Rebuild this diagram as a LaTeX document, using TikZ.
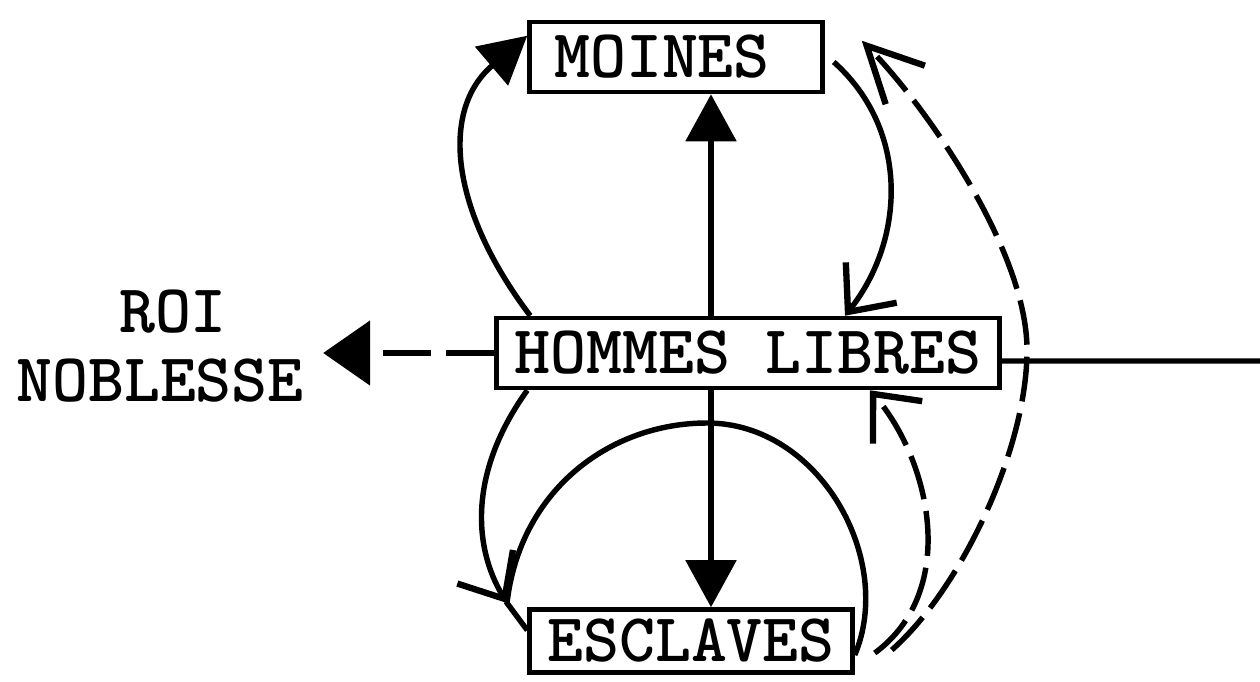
\documentclass[tikz,border=0pt]{standalone}
\usetikzlibrary{arrows.meta}
\tikzset{
	classbox/.style={draw, line width=2.6pt, inner sep=0pt, font=\ttfamily\bfseries\fontsize{39}{39.3}\selectfont},
	solidtip/.style={-{Triangle[length=0.94cm,width=1cm]}},
	barbtip/.style={-{Straight Barb[length=0.75cm,width=1.3cm,line width=3.6pt]}},
	dashedline/.style={dash pattern=on 0.9cm off 0.24cm},
}
\begin{document}
\begin{tikzpicture}[x=0.02cm, y=-0.02cm, line width=3.1pt]
	\useasboundingbox (0,0) rectangle (1260,682);
	\node [classbox, minimum width=5.86cm, minimum height=1.4cm] (moines) at (676,57) {MOINES\hspace*{0.56cm}};
	\node [classbox, minimum width=10.06cm, minimum height=1.4cm] (libres) at (748,353) {HOMMES LIBRES};
	\node [classbox, minimum width=6.46cm, minimum height=1.26cm] (esclaves) at (691,641) {ESCLAVES};
	\node [classbox, draw=none, align=center, inner sep=0.34cm] (roi) at (160,346) {\hspace*{0.52cm}ROI\\NOBLESSE};
	\coordinate (axis) at (711,0);
	\coordinate (edge) at (1262,361);
	\coordinate (merge) at (507,603);
	% up to the monks
	\draw [solidtip] ([xshift=0.72cm]libres.north west) .. controls (450,210) and (440,110) .. ([yshift=-0.32cm]moines.north west);
	\draw [solidtip] (libres.north -| axis) -- (moines.south -| axis);
	\draw [barbtip] ([xshift=0.18cm,yshift=-0.1cm]moines.east) .. controls (910,130) and (905,240) .. ([xshift=1.94cm]libres.north);
	% down to the slaves
	\draw [solidtip] (libres.south -| axis) -- (esclaves.north -| axis);
	\draw [barbtip] ([xshift=0.66cm]libres.south west) .. controls (470,470) and (472,545) .. (merge);
	\draw ([yshift=-0.28cm]esclaves.east) .. controls (895,560) and (820,423) .. (707,423) .. controls (610,423) and (520,490) .. (merge) -- ([yshift=-0.46cm]esclaves.north west);
	% dashed returns
	\draw [barbtip, dashedline] ([xshift=0.4cm,yshift=-0.24cm]esclaves.east) .. controls (960,590) and (930,460) .. ([xshift=2.44cm]libres.south);
	\draw [-{Straight Barb[length=1.1cm,width=1.1cm,line width=3.6pt]}, dashedline] ([xshift=0.74cm,yshift=-0.18cm]esclaves.east) .. controls (960,590) and (1027,450) .. (1027,350) .. controls (1027,250) and (925,105) .. ([xshift=0.74cm,yshift=-0.42cm]moines.north east);
	\draw [-{Triangle[length=0.94cm,width=1.28cm]}, dash pattern=on 0.96cm off 0.3cm] (libres.west) -- (roi.east |- libres.west);
	\draw ([yshift=-0.16cm]libres.east) -- (edge);
\end{tikzpicture}
\end{document}
